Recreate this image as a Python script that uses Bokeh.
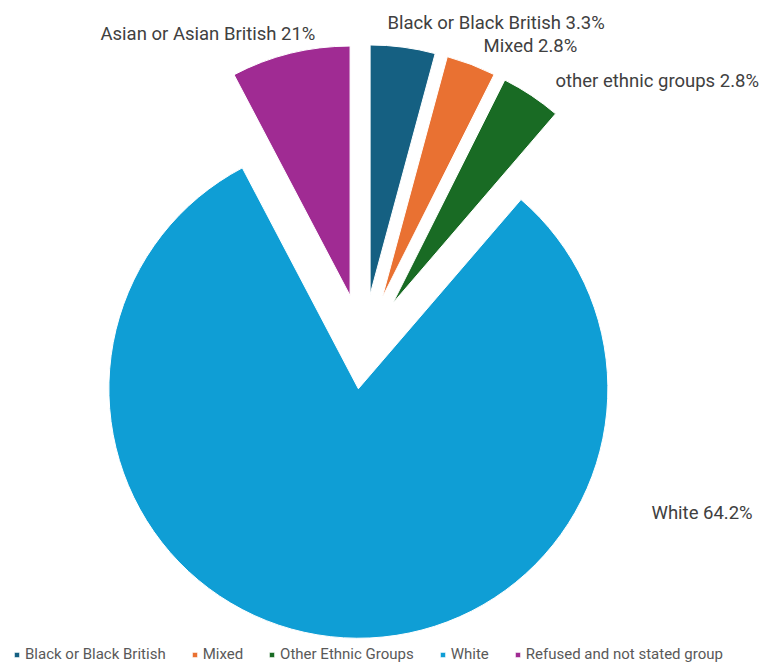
import numpy as np
from bokeh.plotting import figure
from bokeh.models import Range1d, Legend, LegendItem, ColumnDataSource
from bokeh.core.properties import value
from bokeh.embed import file_html
from bokeh.resources import INLINE

# ---- data ----
categories = ["Black or Black British", "Mixed", "Other Ethnic Groups", "White",
              "Refused and not stated group"]
shares = [4.2, 3.2, 3.9, 81.0, 7.7]
colors = ["#156082", "#E97132", "#196B24", "#0F9ED5", "#A02B93"]
label_texts = ["Black or Black British 3.3%", "Mixed 2.8%", "other ethnic groups 2.8%",
               "White 64.2%", "Asian or Asian British 21%"]

# ---- layout (pixels) ----
W, H = 760, 663
CX, CY = 362.5, H - 347.5
R = 249.5
explode = [54, 54, 54, 41, 54]
label_left = [387, 483, 555, 651, 100]
label_top = [22, 45, 80, 512, 33]

frac = np.array(shares) / np.sum(shares)
cum = np.cumsum(frac)
a0 = 2 * np.pi * (cum - frac)
a1 = 2 * np.pi * cum
mid = (a0 + a1) / 2
ex = np.array(explode, dtype=float)

src = ColumnDataSource(dict(
    x=CX + ex * np.sin(mid),
    y=CY + ex * np.cos(mid),
    start=np.pi / 2 - a1,
    end=np.pi / 2 - a0,
    color=colors,
    cat=categories,
))

p = figure(width=W, height=H, x_range=Range1d(0, W), y_range=Range1d(0, H),
           output_backend="svg", toolbar_location=None, min_border=0)
p.axis.visible = False
p.grid.visible = False
p.outline_line_color = None
p.background_fill_color = "white"

r = p.wedge(x="x", y="y", radius=R, start_angle="start", end_angle="end",
            fill_color="color", line_color="white", line_width=1, source=src)

p.text(x=label_left, y=[H - t for t in label_top], text=label_texts,
       text_font=value("Roboto"), text_font_size="18.5px", text_color="#404040",
       text_baseline="middle", text_align="left")

items = [LegendItem(label=c, renderers=[r], index=i) for i, c in enumerate(categories)]
legend = Legend(items=items, orientation="horizontal", location=(13, 0),
                glyph_width=7, glyph_height=7, label_standoff=5, spacing=25,
                padding=0, margin=0, label_height=15,
                label_text_font="Roboto", label_text_font_size="15px",
                label_text_color="#595959", border_line_color=None,
                background_fill_alpha=0)
p.add_layout(legend)

open("out.html", "w").write(file_html(p, INLINE))
